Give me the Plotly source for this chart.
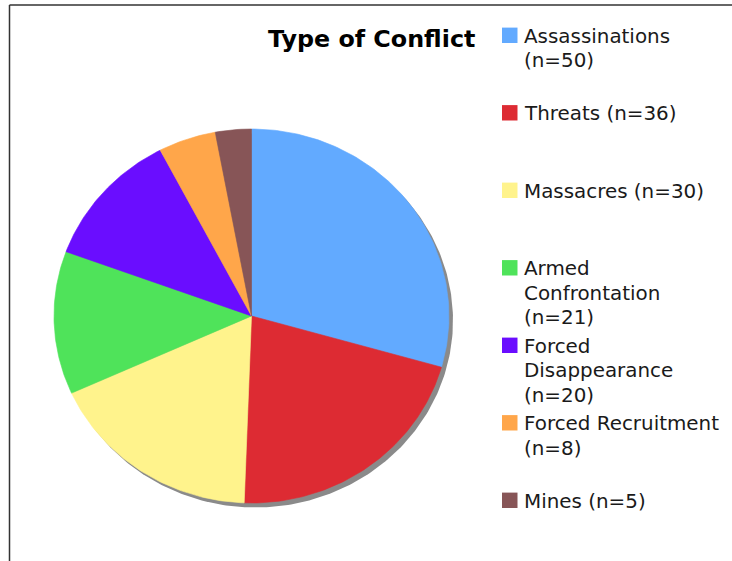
import numpy as np
import plotly.graph_objects as go

W, H = 732, 561

categories = ["Assassinations", "Threats", "Massacres", "Armed Confrontation",
              "Forced Disappearance", "Forced Recruitment", "Mines"]
counts = [50, 36, 30, 21, 20, 8, 5]
colors = ["#62AAFF", "#DD2B33", "#FFF38C", "#4FE35A", "#6A0DFF", "#FFA64A", "#875557"]
# legend text as wrapped in the reference
legend_lines = [
    ["Assassinations", "(n=50)"],
    ["Threats (n=36)"],
    ["Massacres (n=30)"],
    ["Armed", "Confrontation", "(n=21)"],
    ["Forced", "Disappearance", "(n=20)"],
    ["Forced Recruitment", "(n=8)"],
    ["Mines (n=5)"],
]
title = "Type of Conflict"

def px(x):
    return x / W

def py(y):
    return 1 - y / H

# pie placement in pixels (ellipse, slightly wider than tall)
left_px, right_px, top_px, bottom_px = 54, 449, 129, 503
sx = (right_px - left_px) / 2.0   # px per data unit (x)
sy = (bottom_px - top_px) / 2.0   # px per data unit (y)
x0 = -1 - left_px / sx
x1 = x0 + W / sx
ytop = 1 + top_px / sy
ybot = ytop - H / sy
shadow_dx, shadow_dy = 4 / sx, -4.5 / sy

fig = go.Figure()

# shadow
t = np.linspace(0, 2 * np.pi, 400)
fig.add_trace(go.Scatter(x=np.sin(t) + shadow_dx, y=np.cos(t) + shadow_dy, mode="lines",
                         fill="toself", fillcolor="#8a8a8a", line=dict(width=0, color="#8a8a8a"),
                         hoverinfo="skip", showlegend=False))

total = float(sum(counts))
cum = 0.0
for name, v, c in zip(categories, counts, colors):
    a0 = cum / total * 2 * np.pi
    cum += v
    a1 = cum / total * 2 * np.pi
    n = max(int((a1 - a0) / (2 * np.pi) * 400), 4)
    th = np.linspace(a0, a1, n)
    xs = np.concatenate([[0], np.sin(th), [0]])
    ys = np.concatenate([[0], np.cos(th), [0]])
    fig.add_trace(go.Scatter(x=xs, y=ys, mode="lines", fill="toself", fillcolor=c,
                             line=dict(width=0.6, color=c), name=name,
                             hoverinfo="text", text=f"{name}: {v}", hoveron="fills",
                             showlegend=False))

annotations = []
shapes = []
item_top = 35.3
item_step = 77.5
line_step = 24.5
for i, lines in enumerate(legend_lines):
    yc = item_top + i * item_step
    shapes.append(dict(type="rect", xref="paper", yref="paper",
                       x0=px(502), x1=px(517.5), y0=py(yc + 7.7), y1=py(yc - 7.7),
                       fillcolor=colors[i], line=dict(width=0)))
    for j, tx in enumerate(lines):
        annotations.append(dict(text=tx, xref="paper", yref="paper",
                                x=px(522), y=py(yc + j * line_step + 1),
                                xanchor="left", yanchor="middle", showarrow=False,
                                font=dict(family="DejaVu Sans", size=19.9, color="#1a1a1a")))

annotations.append(dict(text="<b>" + title + "</b>", xref="paper", yref="paper",
                        x=px(371.5), y=py(39), xanchor="center", yanchor="middle",
                        showarrow=False,
                        font=dict(family="DejaVu Sans", size=23.8, color="#000000")))

# frame lines
shapes.append(dict(type="line", xref="paper", yref="paper", x0=px(9.5), x1=px(9.5),
                   y0=0, y1=py(5), line=dict(color="#333333", width=1.5)))
shapes.append(dict(type="line", xref="paper", yref="paper", x0=px(9.5), x1=1,
                   y0=py(5), y1=py(5), line=dict(color="#333333", width=1.5)))

fig.update_layout(width=W, height=H, margin=dict(l=0, r=0, t=0, b=0),
                  paper_bgcolor="white", plot_bgcolor="white",
                  xaxis=dict(range=[x0, x1], visible=False, showgrid=False, zeroline=False,
                             fixedrange=True),
                  yaxis=dict(range=[ybot, ytop], visible=False, showgrid=False, zeroline=False,
                             fixedrange=True),
                  annotations=annotations, shapes=shapes, showlegend=False)

fig.write_html("out.html", config={"displayModeBar": False},
               post_script="document.body.style.margin='0px';document.body.style.overflow='hidden';")
